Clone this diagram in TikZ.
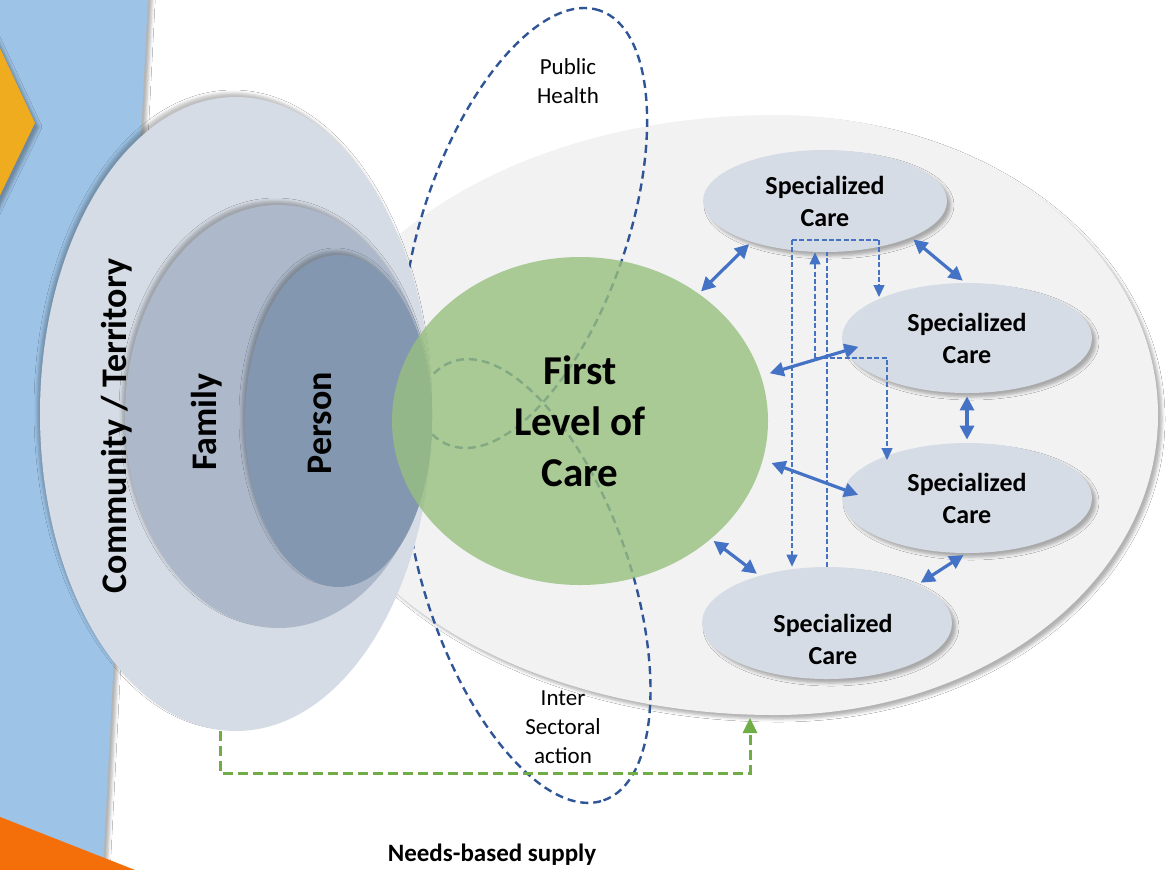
\documentclass[tikz,border=0pt]{standalone}
\usepackage{fontspec}
\setmainfont{Carlito}
\usetikzlibrary{shapes.geometric,arrows.meta,positioning,calc,shadows.blur}
\definecolor{skypanel}{HTML}{9DC3E6}
\definecolor{chevronyellow}{HTML}{EFAC1E}
\definecolor{tangerine}{HTML}{F46E09}
\definecolor{communitygray}{HTML}{D6DCE5}
\definecolor{familygray}{HTML}{ADB9CA}
\definecolor{personblue}{HTML}{8497B0}
\definecolor{backdropgray}{HTML}{F2F2F2}
\definecolor{firstgreen}{HTML}{97BF7E}
\definecolor{linkblue}{HTML}{4472C4}
\definecolor{loopblue}{HTML}{2F5597}
\definecolor{supplygreen}{HTML}{70AD47}

\begin{document}
\begin{tikzpicture}[x=0.5pt,y=0.5pt,
    softshadow/.style={blur shadow={shadow xshift=2pt,shadow yshift=-2pt,shadow blur radius=1.5pt,shadow opacity=30}},
    upshadow/.style={blur shadow={shadow xshift=-1.5pt,shadow yshift=2pt,shadow blur radius=1.5pt,shadow opacity=25}},
    spec/.style={ellipse, fill=communitygray, inner sep=0pt, minimum width=125pt, minimum height=55pt, align=center, font=\bfseries\fontsize{13}{16}\selectfont, softshadow},
    loopring/.style={ellipse, draw=loopblue, line width=1.2pt, dash pattern=on 4pt off 2.5pt, inner sep=0pt},
    twoway/.style={{Triangle[length=7pt,width=7pt]}-{Triangle[length=7pt,width=7pt]}, draw=linkblue, line width=1.6pt, shorten <=1.5pt, shorten >=1.5pt},
    thinlink/.style={draw=linkblue, line width=0.65pt, dash pattern=on 2.5pt off 1.2pt},
    supply/.style={draw=supplygreen, line width=1.5pt, dash pattern=on 5pt off 2.5pt, -{Triangle[length=7.5pt,width=7pt]}},
    bigbold/.style={font=\bfseries\fontsize{18}{20}\selectfont},
    looptext/.style={align=center, font=\fontsize{11.5}{14.5}\selectfont}]
    \useasboundingbox (0,0) rectangle (1166,-869);
    \fill[white] (0,0) rectangle (1166,-869);

    % side panel
    \fill[skypanel, softshadow] (-10,10) -- (148.5,10) -- (102.5,-879) -- (-10,-879) -- cycle;
    \fill[chevronyellow, softshadow] (-10,-27) -- (35,-123) -- (-10,-216) -- cycle;
    \fill[tangerine] (-10,-813) -- (158,-879) -- (-10,-879) -- cycle;

    % backdrop
    \fill[backdropgray, softshadow] (775,-115) arc[start angle=90, end angle=-90, x radius=383, y radius=300]
        arc[start angle=270, end angle=90, x radius=470, y radius=300] -- cycle;

    % Public Health / Inter Sectoral loops
    \node[loopring, rotate=71, minimum width=230pt, minimum height=102pt] (ph) at (525,-228) {};
    \node[loopring, rotate=-71, minimum width=232pt, minimum height=102pt] (isa) at (528,-581) {};

    \node[ellipse, fill=communitygray, minimum width=196pt, minimum height=317pt, upshadow] (com) at (236,-414) {};
    \node[ellipse, fill=familygray, minimum width=153.5pt, minimum height=211.5pt, upshadow] (fam) at (278.5,-416.5) {};
    \node[ellipse, fill=personblue, minimum width=93.5pt, minimum height=166pt, upshadow] (per) at (338.5,-421) {};

    \node[ellipse, fill=firstgreen, fill opacity=0.8, text opacity=1, minimum width=188pt, minimum height=164pt, align=center,
        font=\bfseries\fontsize{20.5}{25.5}\selectfont] (flc) at (580,-421) {First\\Level of\\Care};

    \node[spec, minimum width=122pt, minimum height=51pt] (sc1) at (825,-201) {Specialized\\Care};
    \node[spec] (sc2) at (967,-338) {Specialized\\Care};
    \node[spec] (sc3) at (967,-498) {Specialized\\Care};
    \node[spec, minimum height=56pt] (sc4) at (827,-623) {};
    \node[align=center, font=\bfseries\fontsize{13}{16}\selectfont] (sc4txt) at ($(sc4.center)+(6,-16)$) {Specialized\\Care};

    % two-way links
    \draw[twoway] (flc.47) -- (sc1.209);
    \draw[twoway] (sc1.-23) -- (sc2.92);
    \draw[twoway, shorten <=4.5pt, shorten >=-7pt] (flc.14) -- (sc2.186);
    \draw[twoway] (sc2.south) -- (sc3.north);
    \draw[twoway, shorten <=4.5pt, shorten >=-8pt] (flc.-12) -- (sc3.176);
    \draw[twoway] (sc4.23) -- (sc3.269);
    \draw[twoway] (flc.-42) -- (sc4.145);

    % referrals
    \coordinate (d1) at (792,-240);
    \coordinate (d2) at (879,-240);
    \coordinate (d3) at (815,-358);
    \draw[thinlink] (d1) -- (d2);
    \draw[thinlink, -{Triangle[length=6pt,width=5.5pt]}] (d1) -- (d1 |- sc4.north);
    \draw[thinlink, -{Triangle[length=6pt,width=5.5pt]}] (d2) -- ++(0,-57);
    \draw[thinlink] (sc4.north) -- (sc4.north |- sc1.south);
    \draw[thinlink, -{Triangle[length=6pt,width=5.5pt]}] (d3) -- (d3 |- sc1.south);
    \draw[thinlink, -{Triangle[length=6pt,width=5.5pt]}] (d3) -| ++(72,-102);

    % needs-based supply
    \coordinate (g1) at (220,-773);
    \coordinate (g2) at (750,-773);
    \draw[supply] (g1 |- com.south) -- (g1) -- (g2) -- ++(0,55);

    \node[bigbold, rotate=90] (comtxt) at (117,-426) {Community / Territory};
    \node[bigbold, rotate=90] (famtxt) at (207,-422) {Family};
    \node[bigbold, rotate=90] (pertxt) at (320,-423) {Person};
    \node[looptext] (phtxt) at (568,-81) {Public\\Health};
    \node[looptext] (isatxt) at (563,-727) {Inter\\Sectoral\\action};
    \node[font=\bfseries\fontsize{12.5}{15}\selectfont] (needs) at (492,-855) {Needs-based supply};
\end{tikzpicture}
\end{document}
